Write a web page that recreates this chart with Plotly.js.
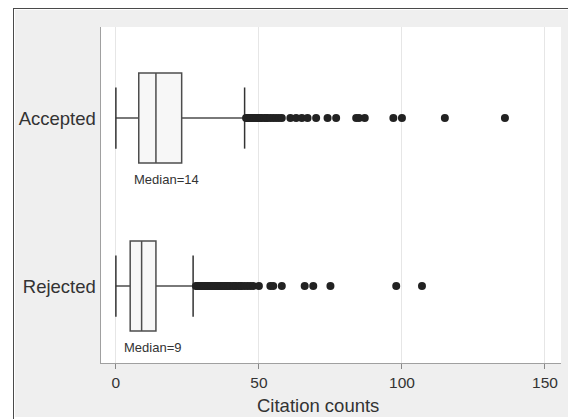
<!DOCTYPE html>
<html>
<head>
<meta charset="utf-8">
<script src="https://cdn.plot.ly/plotly-3.0.1.min.js"></script>
<style>
  html, body { margin: 0; padding: 0; background: #ffffff; }
  #frame { position: absolute; left: 13px; top: 8px; width: 555px; height: 411px;
           border-left: 1px solid #4a4a4a; border-top: 1px solid #4a4a4a; box-sizing: border-box; }
  #chart { position: absolute; left: 15px; top: 10px; width: 553px; height: 407px; }
</style>
</head>
<body>
<div id="frame"></div>
<div id="chart"></div>
<script>
// Categories (bottom to top)
const groups = ['Rejected', 'Accepted'];
const positions = [0, 1];
const xTitle = 'Citation counts';
const xTicks = [0, 50, 100, 150];

// Box statistics
const q1 = [5, 8];
const medians = [9, 14];
const q3 = [14, 23];
const lowerFence = [0, 0];
const upperFence = [27, 45];

// Outliers
const outliersRejected = [28, 28.5, 29, 29.5, 30, 30.5, 31, 31.5, 32, 32.5, 33, 33.5, 34, 34.5, 35, 35.5, 36, 36.5, 37, 37.5,
  38, 38.5, 39, 39.5, 40, 41, 41.5, 42, 43, 43.5, 44, 45, 46, 47, 48, 50, 54, 55, 58, 66, 69, 75, 98, 107];
const outliersAccepted = [45.5, 46, 46.5, 47, 47.5, 48, 48.5, 49, 49.5, 50, 50.5, 51, 52, 52.5, 53, 54, 55, 56, 57, 58,
  61, 63, 65, 67, 70, 74, 77, 84, 85, 87, 97, 100, 115, 136];

const boxWidth = 0.536;
const capHalf = 0.182;
const lineColor = '#4d4d4d';
const textColor = '#333333';
const font = 'Liberation Sans, Arial, sans-serif';

const traces = [];
for (let i = 0; i < groups.length; i++) {
  traces.push({
    type: 'box', orientation: 'h',
    y: [positions[i]],
    q1: [q1[i]], median: [medians[i]], q3: [q3[i]],
    lowerfence: [lowerFence[i]], upperfence: [upperFence[i]],
    width: boxWidth,
    boxpoints: false,
    fillcolor: '#f7f7f7',
    line: { color: lineColor, width: 1.5 },
    whiskerwidth: 0,
    hoverinfo: 'skip',
    showlegend: false
  });
}
// whisker caps
const capX = [], capY = [];
for (let i = 0; i < groups.length; i++) {
  [lowerFence[i], upperFence[i]].forEach(v => {
    capX.push(v, v, null);
    capY.push(positions[i] - capHalf, positions[i] + capHalf, null);
  });
}
traces.push({
  type: 'scatter', mode: 'lines', x: capX, y: capY,
  line: { color: '#333333', width: 1.5 }, hoverinfo: 'skip', showlegend: false
});
// outliers
const outlierSets = [outliersRejected, outliersAccepted];
for (let i = 0; i < groups.length; i++) {
  traces.push({
    type: 'scatter', mode: 'markers',
    x: outlierSets[i], y: outlierSets[i].map(() => positions[i]),
    marker: { color: '#222222', size: 8 },
    hoverinfo: 'skip', showlegend: false
  });
}

const annotations = groups.map((g, i) => ({
  x: medians[i], y: positions[i] - boxWidth / 2,
  xref: 'x', yref: 'y',
  text: 'Median=' + medians[i],
  showarrow: false, xanchor: 'center', yanchor: 'top',
  xshift: 11, yshift: -7,
  font: { family: font, size: 13, color: textColor }
}));
annotations.push({
  x: 0.4707, y: 0, xref: 'paper', yref: 'paper',
  text: xTitle, showarrow: false, xanchor: 'center', yanchor: 'middle',
  yshift: -42,
  font: { family: font, size: 18.5, color: textColor }
});

const layout = {
  width: 553, height: 407,
  margin: { l: 86, r: 7, t: 17, b: 54 },
  paper_bgcolor: '#efefef',
  plot_bgcolor: '#ffffff',
  showlegend: false,
  xaxis: {
    range: [-5.2, 155.6],
    tickvals: xTicks,
    showgrid: true, gridcolor: '#e6e6e6', gridwidth: 1,
    zeroline: false,
    showline: true, linecolor: '#a0a0a0', linewidth: 1,
    ticks: 'outside', ticklen: 5, tickcolor: '#888888',
    tickfont: { family: font, size: 15.5, color: textColor }
  },
  yaxis: {
    range: [-0.458, 1.542],
    tickvals: positions, ticktext: groups,
    showgrid: false, zeroline: false,
    showline: true, linecolor: '#a0a0a0', linewidth: 1.5,
    ticks: '',
    tickfont: { family: font, size: 18.5, color: textColor }
  },
  annotations: annotations
};

Plotly.newPlot('chart', traces, layout, { displayModeBar: false, staticPlot: true });
</script>
</body>
</html>
